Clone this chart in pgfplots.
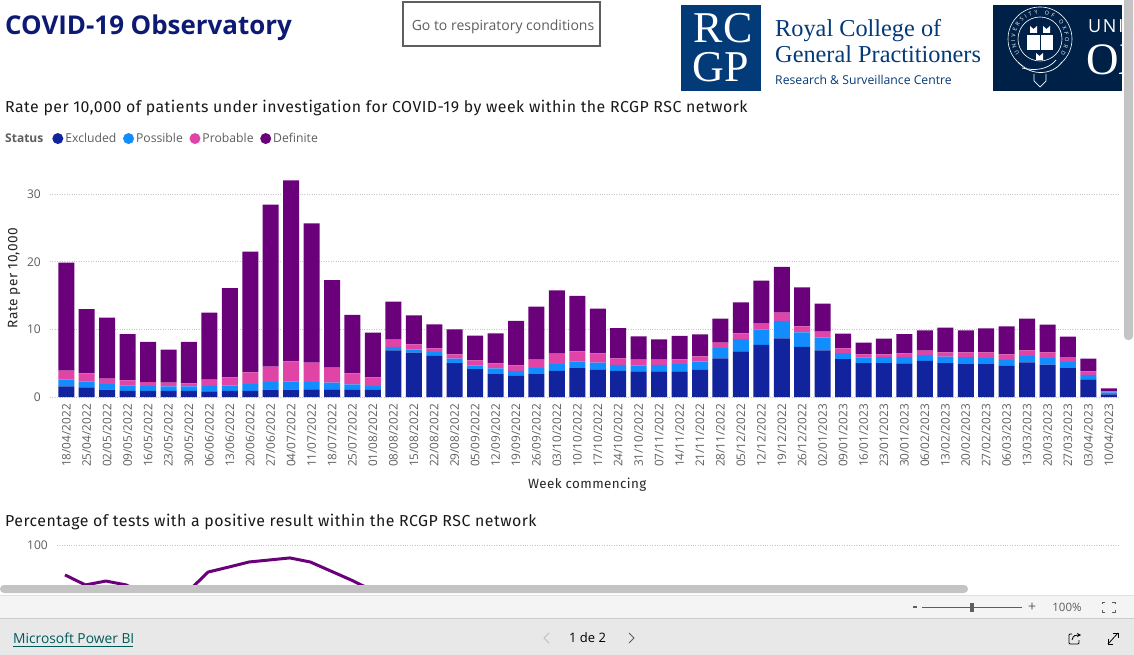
\documentclass[border=0pt]{standalone}
\usepackage{fontspec}
\setmainfont{Open Sans}
\newfontfamily\din{Fira Sans}[LetterSpace=3]
\newfontfamily\logoserif{Liberation Serif}
\usepackage{pgfplots}
\usepackage{pgfplotstable}
\pgfplotsset{compat=1.18}
\usetikzlibrary{decorations.text}
\definecolor{pbiexc}{HTML}{12239E}
\definecolor{pbipos}{HTML}{118DFF}
\definecolor{pbipro}{HTML}{E044A7}
\definecolor{pbidef}{HTML}{6B007B}
\definecolor{pbitxt}{HTML}{605E5C}
\definecolor{navy}{HTML}{0D1A73}
\definecolor{rcgp}{HTML}{033A78}
\definecolor{oxf}{HTML}{002147}
\definecolor{sbar}{HTML}{C4C4C4}

\pgfplotstableread{
i exc pos pro def
0 1.58 .99 1.33 15.98
1 1.43 .89 1.18 9.5
2 1.09 .83 .79 9.03
3 .89 .84 .74 6.85
4 .89 .74 .59 5.92
5 .89 .69 .54 4.88
6 .89 .69 .44 6.12
7 .84 .79 .94 9.91
8 .89 .79 1.23 13.22
9 .89 1.03 1.73 17.85
10 1.09 1.13 2.27 23.98
11 1.09 1.23 2.96 26.79
12 1.13 1.09 2.86 20.62
13 1.13 .99 2.22 12.96
14 1.04 .83 1.63 8.64
15 1.04 .59 1.28 6.61
16 6.9 .5 1.09 5.61
17 6.56 .44 .79 4.3
18 6.07 .59 .54 3.55
19 5.03 .64 .64 3.69
20 4.14 .55 .74 3.65
21 3.4 .84 .74 4.44
22 3.11 .74 .84 6.56
23 3.4 .89 1.24 7.84
24 3.85 1.03 1.53 9.38
25 4.29 .99 1.48 8.19
26 4.0 1.08 1.38 6.61
27 3.85 .89 .98 4.49
28 3.8 .89 .84 3.45
29 3.8 .94 .79 3.0
30 3.8 1.08 .69 3.46
31 4.0 1.23 .79 3.25
32 5.72 1.53 .79 3.55
33 6.76 1.82 .84 4.59
34 7.7 2.27 .98 6.27
35 8.68 2.57 1.23 6.76
36 7.4 2.17 .89 5.77
37 6.9 1.88 .89 4.14
38 5.62 .89 .69 2.17
39 5.03 .84 .44 1.73
40 5.03 .89 .39 2.32
41 4.98 .94 .54 2.86
42 5.33 .89 .64 3.01
43 5.03 .94 .64 3.65
44 4.88 1.04 .69 3.26
45 4.88 .89 .84 3.55
46 4.59 .89 .83 4.15
47 5.13 .94 .84 4.68
48 4.79 .98 .84 4.1
49 4.29 .89 .74 3.01
50 2.61 .65 .54 1.87
51 .39 .3 .15 .44
}\ratetable

\begin{document}
\begin{tikzpicture}[x=1pt,y=-1pt]
\path[use as bounding box,fill=white] (0,0) rectangle (1134,655);

% header
\node[anchor=west,inner sep=0,text=navy,font=\fontsize{25.9}{28}\selectfont\bfseries] at (5,27.5) {COVID-19 Observatory};
\draw[line width=2pt,draw=pbitxt] (403,2) rectangle (600,46);
\node[anchor=center,inner sep=0,text=pbitxt,font=\fontsize{14}{16}\selectfont] at (503,26.5) {Go to respiratory conditions};

% RCGP logo
\fill[rcgp] (681,5) rectangle (761,91);
\node[anchor=base,text=white,inner sep=0,font=\logoserif\fontsize{44}{44}\selectfont] at (723,43) {RC};
\node[anchor=base,text=white,inner sep=0,font=\logoserif\fontsize{44}{44}\selectfont] at (721,82) {GP};
\node[anchor=base west,inner sep=0,text=rcgp,font=\logoserif\fontsize{24.3}{28}\selectfont] at (775,36.5) {Royal College of};
\node[anchor=base west,inner sep=0,text=rcgp,font=\logoserif\fontsize{24.3}{28}\selectfont] at (775,63) {General Practitioners};
\node[anchor=base west,inner sep=0,text=rcgp,font=\fontsize{12.2}{15}\selectfont] at (775,85) {Research \& Surveillance Centre};

% Oxford logo
\fill[oxf] (993,5) rectangle (1122,91);
\begin{scope}
\clip (993,5) rectangle (1122,91);
\node[anchor=base west,inner sep=0,text=white,font=\fontsize{18}{18}\selectfont] at (1088,33) {U\kern1.5pt N\kern2pt I};
\node[anchor=base west,inner sep=0,text=white,font=\logoserif\fontsize{45}{45}\selectfont] at (1086,75) {OX};
\draw[white,line width=.6pt] (1040,39) circle (32);
\draw[white,line width=.6pt] (1040,39) circle (22);
\path[postaction={decorate,decoration={text along path,text align=fit to path,raise=-2pt,
  text={|\fontsize{5.5}{6}\selectfont\color{white}|UNIVERSITY OF OXFORD}}}]
  (1017.9,54.5) arc[start angle=145,end angle=395,radius=27];
\fill[white] (1027,35) rectangle (1053,50);
\draw[oxf,line width=.7pt] (1040,35) -- (1040,50);
\fill[white] (1030,26) -- (1030,33) -- (1037,33) -- (1037,26) -- (1033.5,29) -- cycle;
\fill[white] (1043,26) -- (1043,33) -- (1050,33) -- (1050,26) -- (1046.5,29) -- cycle;
\fill[white] (1036,53) -- (1036,60) -- (1043,60) -- (1043,53) -- (1039.5,56) -- cycle;
\draw[oxf,line width=3pt] (1020,66) .. controls (1032,74) and (1052,74) .. (1060,63);
\draw[white,line width=.7pt] (1018,62) .. controls (1030,76) and (1052,76) .. (1062,62);
\draw[white,line width=.7pt] (1022,68) .. controls (1034,71) and (1048,70) .. (1056,60);
\draw[white,line width=.7pt] (1034,74) -- (1034,81) -- (1040,87) -- (1046,81) -- (1046,74);
\end{scope}

\node[anchor=west,inner sep=0,text=black!90,font=\din\fontsize{15.87}{18}\selectfont] at (5,108) {Rate per 10,000 of patients under investigation for COVID-19 by week within the RCGP RSC network};
\node[anchor=west,inner sep=0,text=pbitxt,font=\fontsize{12}{14}\selectfont\bfseries] at (5,138) {Status};

\begin{axis}[
  at={(50pt,-397pt)},anchor=south west,
  scale only axis,width=1069pt,height=223pt,
  ybar stacked,bar width=16pt,
  xmin=-0.797,xmax=51.5,ymin=0,ymax=33,
  axis x line*=bottom,axis y line*=left,
  axis line style={draw=none},
  tick style={draw=none},
  ytick={0,10,20,30},
  xtick={0,...,51},
  xticklabels={18/04/2022,25/04/2022,02/05/2022,09/05/2022,16/05/2022,23/05/2022,30/05/2022,06/06/2022,13/06/2022,20/06/2022,27/06/2022,04/07/2022,11/07/2022,18/07/2022,25/07/2022,01/08/2022,08/08/2022,15/08/2022,22/08/2022,29/08/2022,05/09/2022,12/09/2022,19/09/2022,26/09/2022,03/10/2022,10/10/2022,17/10/2022,24/10/2022,31/10/2022,07/11/2022,14/11/2022,21/11/2022,28/11/2022,05/12/2022,12/12/2022,19/12/2022,26/12/2022,02/01/2023,09/01/2023,16/01/2023,23/01/2023,30/01/2023,06/02/2023,13/02/2023,20/02/2023,27/02/2023,06/03/2023,13/03/2023,20/03/2023,27/03/2023,03/04/2023,10/04/2023},
  x tick label style={rotate=90,anchor=east,inner sep=0pt,text=pbitxt,font=\fontsize{11.8}{12}\selectfont},
  y tick label style={inner sep=0pt,text=pbitxt,font=\fontsize{12}{13}\selectfont,/pgf/number format/assume math mode=true},
  xticklabel shift=7pt,yticklabel shift=9pt,
  ymajorgrids,major grid style={dotted,line width=.8pt,draw=black!22},
  xlabel={Week commencing},ylabel={Rate per 10,000},
  xlabel style={at={(axis description cs:0.5025,-0.394)},anchor=center,inner sep=0,font=\din\fontsize{13.4}{15}\selectfont,text=black!85},
  ylabel style={at={(axis description cs:-0.0336,0.534)},anchor=center,inner sep=0,font=\din\fontsize{13.7}{15}\selectfont,text=black!85},
  legend columns=4,
  legend image code/.code={\fill[#1] (0pt,0pt) circle (5.5pt);},
  legend style={at={(0.002,1.159)},anchor=west,draw=none,fill=none,inner sep=0pt,
    font=\fontsize{12.2}{14}\selectfont,text=pbitxt,
    /tikz/every even column/.append style={column sep=4.6pt}},
]
\addplot[fill=pbiexc,draw=none] table[x=i,y=exc]{\ratetable};
\addplot[fill=pbipos,draw=none] table[x=i,y=pos]{\ratetable};
\addplot[fill=pbipro,draw=none] table[x=i,y=pro]{\ratetable};
\addplot[fill=pbidef,draw=none] table[x=i,y=def]{\ratetable};
\legend{Excluded,Possible,Probable,Definite}
\end{axis}

\node[anchor=west,inner sep=0,text=black!90,font=\din\fontsize{15.87}{18}\selectfont] at (5,522) {Percentage of tests with a positive result within the RCGP RSC network};

\begin{axis}[
  at={(57pt,-584pt)},anchor=south west,
  scale only axis,width=1063pt,height=39pt,
  xmin=-0.39,xmax=51.6,ymin=77.06,ymax=100,
  axis x line*=bottom,axis y line*=left,
  axis line style={draw=none},tick style={draw=none},
  xtick=\empty,ytick={100},
  y tick label style={inner sep=0pt,text=pbitxt,font=\fontsize{12}{13}\selectfont,/pgf/number format/assume math mode=true},
  yticklabel shift=9pt,
  ymajorgrids,major grid style={dotted,line width=.8pt,draw=black!22},
]
\addplot[pbidef,line width=3pt,line join=round] coordinates {
(0,82.4)(1,76.5)(2,78.8)(3,76.5)(4,70)(5,68)(6,72.4)(7,84.1)(8,87)(9,90)(10,91.2)(11,92.4)(12,90)(13,84.7)(14,79.4)(15,73.5)};
\end{axis}

% report chrome
\fill[sbar,rounded corners=4pt] (0,585) rectangle (968,593);
\fill[sbar,rounded corners=4pt] (1124,-6) rectangle (1133,340);
\fill[white] (0,594) rectangle (1134,595);
\fill[black!12] (0,595) rectangle (1134,596);
\fill[black!4.5] (0,596) rectangle (1134,618);
\fill[black!20] (0,618) rectangle (1134,619);
\fill[black!9] (0,619) rectangle (1134,655);

\fill[pbitxt] (913,606) rectangle (917,608);
\draw[pbitxt,line width=.9pt] (922,607) -- (1022,607);
\fill[pbitxt] (970,603) rectangle (974,612);
\node[inner sep=0,text=pbitxt,font=\fontsize{14}{15}\selectfont] at (1032,607) {+};
\node[inner sep=0,text=pbitxt,font=\fontsize{11.5}{13}\selectfont] at (1067,607) {100\%};
\draw[pbitxt,line width=.7pt] (1102,604) -- (1102,602) -- (1105,602) (1112,602) -- (1115,602) -- (1115,604) (1115,610) -- (1115,612) -- (1112,612) (1105,612) -- (1102,612) -- (1102,610);

\node[anchor=west,inner sep=0,text=teal!70!black,font=\fontsize{13.8}{15}\selectfont] (pbi) at (13,638.5) {Microsoft Power BI};
\draw[teal!70!black,line width=.8pt] (13,646) -- (133,646);

\node[inner sep=0,text=black,font=\fontsize{13}{15}\selectfont] at (587.5,638) {1 de 2};
\draw[black!25,line width=.9pt] (549,633) -- (544,638) -- (549,643);
\draw[pbitxt,line width=.9pt] (629,633) -- (634,638) -- (629,643);

% share and expand icons
\draw[black,line width=.8pt,rounded corners=1pt] (1072,634) -- (1069,634) -- (1069,644) -- (1079,644) -- (1079,640);
\draw[black,line width=.8pt,-stealth] (1072,640) .. controls (1073,635) and (1076,635) .. (1081,635);
\draw[black,line width=.8pt] (1108,644) -- (1118,633);
\draw[black,line width=.8pt] (1113,633) -- (1118,633) -- (1118,638);
\draw[black,line width=.8pt] (1108,639) -- (1108,644) -- (1113,644);
\end{tikzpicture}
\end{document}
